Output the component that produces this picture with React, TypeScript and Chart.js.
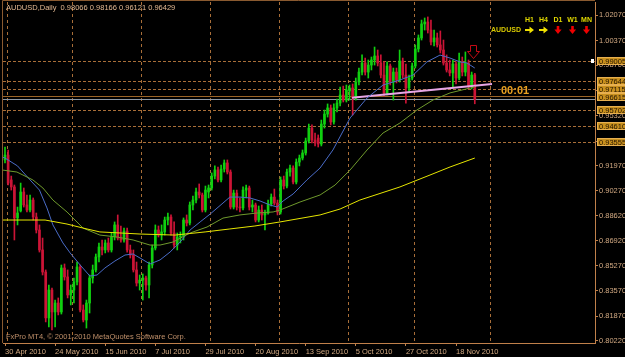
import React, { useEffect, useRef } from "react";
import { Chart, registerables } from "chart.js";

Chart.register(...registerables);

// ---------------- data ----------------
const symbolTitle = "AUDUSD,Daily";
const lastOHLC = [0.98066, 0.98166, 0.96121, 0.96429];

const dateLabels = ["30 Apr 2010", "24 May 2010", "15 Jun 2010", "7 Jul 2010", "29 Jul 2010", "20 Aug 2010", "13 Sep 2010", "5 Oct 2010", "27 Oct 2010", "18 Nov 2010"];
const dateBarIndex = [0, 16, 32, 48, 64, 80, 96, 112, 128, 144];
const monthSeparators = [0.5, 21.5, 43.5, 65.5, 87.5, 109.5, 130.5, 155];

const priceTicks = [1.0207, 1.0037, 0.987, 0.9701, 0.9532, 0.9362, 0.9197, 0.9027, 0.8862, 0.8692, 0.8527, 0.8357, 0.8187, 0.8022];
const dottedLevels = [0.99005, 0.97644, 0.97115, 0.95702, 0.9461, 0.93555];
const solidLevel = 0.96615;
const bidPrice = 0.96429;
const boxLabels = [0.99005, 0.97644, 0.97115, 0.96615, 0.95702, 0.9461, 0.93555];
const timerText = "00:01";
const mtfLabels = ["H1", "H4", "D1", "W1", "MN"];
const mtfDirection = ["up", "up", "down", "down", "down"];
const copyright = "FxPro MT4, \u00A9 2001-2010 MetaQuotes Software Corp.";

const opens = [0.9235,0.9268,0.9101,0.9054,0.8846,0.8893,0.9020,0.8933,0.8899,0.8966,0.8852,0.8765,0.8631,0.8483,0.8175,0.8362,0.8215,0.8275,0.8215,0.8510,0.8450,0.8329,0.8362,0.8416,0.8517,0.8228,0.8161,0.8275,0.8443,0.8497,0.8584,0.8651,0.8631,0.8678,0.8631,0.8718,0.8799,0.8711,0.8698,0.8758,0.8631,0.8597,0.8497,0.8409,0.8429,0.8443,0.8396,0.8530,0.8644,0.8765,0.8731,0.8752,0.8832,0.8852,0.8745,0.8664,0.8718,0.8725,0.8832,0.8812,0.8933,0.8966,0.9020,0.9000,0.8899,0.9020,0.9047,0.9127,0.9168,0.9101,0.9174,0.9215,0.9154,0.8919,0.9013,0.8919,0.8913,0.9033,0.9047,0.8919,0.8933,0.8832,0.8899,0.8866,0.8879,0.8940,0.8986,0.8946,0.8886,0.9101,0.9060,0.9154,0.9181,0.9087,0.9221,0.9248,0.9282,0.9362,0.9449,0.9369,0.9382,0.9342,0.9476,0.9543,0.9584,0.9490,0.9584,0.9617,0.9671,0.9637,0.9698,0.9718,0.9651,0.9758,0.9825,0.9886,0.9825,0.9872,0.9906,0.9933,0.9886,0.9805,0.9684,0.9866,0.9758,0.9825,0.9772,0.9899,0.9805,0.9718,0.9785,0.9866,0.9980,1.0054,1.0148,1.0161,1.0107,1.0027,1.0054,1.0007,0.9973,0.9886,0.9839,0.9819,0.9879,0.9785,0.9893,0.9825,0.9886,0.9731,0.98066];
const closes = [0.9268,0.9080,0.9054,0.8846,0.8879,0.9020,0.8933,0.8899,0.8966,0.8852,0.8765,0.8631,0.8483,0.8175,0.8362,0.8215,0.8275,0.8215,0.8510,0.8450,0.8329,0.8362,0.8416,0.8517,0.8228,0.8161,0.8275,0.8443,0.8497,0.8584,0.8651,0.8631,0.8678,0.8631,0.8718,0.8799,0.8711,0.8698,0.8758,0.8631,0.8597,0.8497,0.8409,0.8429,0.8443,0.8396,0.8530,0.8644,0.8765,0.8731,0.8752,0.8832,0.8852,0.8745,0.8664,0.8718,0.8725,0.8832,0.8812,0.8933,0.8966,0.9020,0.9000,0.8899,0.9033,0.9047,0.9127,0.9168,0.9101,0.9174,0.9215,0.9154,0.8919,0.9013,0.8919,0.8913,0.9033,0.9047,0.8919,0.8933,0.8832,0.8899,0.8866,0.8879,0.8940,0.8986,0.8946,0.8886,0.9101,0.9060,0.9154,0.9181,0.9087,0.9221,0.9248,0.9282,0.9362,0.9449,0.9369,0.9349,0.9342,0.9476,0.9543,0.9584,0.9490,0.9584,0.9617,0.9671,0.9637,0.9705,0.9718,0.9651,0.9758,0.9825,0.9886,0.9825,0.9872,0.9906,0.9933,0.9886,0.9805,0.9684,0.9866,0.9758,0.9825,0.9772,0.9899,0.9805,0.9718,0.9785,0.9866,0.9980,1.0054,1.0148,1.0161,1.0107,1.0027,1.0054,1.0007,0.9973,0.9886,0.9839,0.9819,0.9879,0.9785,0.9893,0.9825,0.9886,0.9731,0.9805,0.96429];
const highs = [0.9322,0.9302,0.9127,0.9067,0.8919,0.9080,0.9047,0.9000,0.9000,0.8980,0.8879,0.8799,0.8711,0.8497,0.8396,0.8376,0.8295,0.8309,0.8530,0.8537,0.8497,0.8396,0.8443,0.8550,0.8530,0.8262,0.8295,0.8463,0.8530,0.8604,0.8678,0.8698,0.8698,0.8711,0.8745,0.8819,0.8866,0.8792,0.8778,0.8778,0.8664,0.8631,0.8550,0.8463,0.8470,0.8456,0.8550,0.8664,0.8799,0.8792,0.8799,0.8852,0.8879,0.8866,0.8819,0.8745,0.8752,0.8846,0.8866,0.8953,0.8993,0.9047,0.9074,0.9013,0.9060,0.9067,0.9148,0.9195,0.9188,0.9201,0.9235,0.9235,0.9168,0.9033,0.9033,0.8980,0.9054,0.9067,0.9060,0.8966,0.8946,0.8926,0.8933,0.8899,0.8966,0.9007,0.9040,0.8966,0.9121,0.9127,0.9174,0.9201,0.9195,0.9242,0.9268,0.9302,0.9382,0.9476,0.9470,0.9416,0.9403,0.9503,0.9570,0.9611,0.9604,0.9611,0.9644,0.9725,0.9731,0.9738,0.9738,0.9745,0.9785,0.9852,0.9940,0.9919,0.9906,0.9926,0.9993,0.9973,0.9940,0.9893,0.9893,0.9879,0.9852,0.9852,0.9973,0.9919,0.9879,0.9805,0.9886,1.0007,1.0074,1.0174,1.0188,1.0195,1.0174,1.0107,1.0087,1.0101,1.0040,0.9940,0.9906,0.9906,0.9893,0.9953,0.9926,0.9960,0.9906,0.9825,0.98166];
const lows = [0.9215,0.9067,0.9033,0.8698,0.8799,0.8886,0.8919,0.8886,0.8886,0.8832,0.8745,0.8617,0.8463,0.8148,0.8114,0.8094,0.8114,0.8195,0.8201,0.8429,0.8309,0.8262,0.8275,0.8396,0.8215,0.8148,0.8107,0.8208,0.8409,0.8483,0.8550,0.8597,0.8611,0.8617,0.8617,0.8698,0.8698,0.8684,0.8684,0.8617,0.8577,0.8483,0.8389,0.8362,0.8295,0.8362,0.8309,0.8510,0.8631,0.8718,0.8698,0.8731,0.8799,0.8731,0.8644,0.8631,0.8678,0.8698,0.8792,0.8799,0.8899,0.8946,0.8980,0.8886,0.8886,0.8980,0.9033,0.9107,0.9087,0.9087,0.9154,0.9141,0.8906,0.8906,0.8899,0.8886,0.8899,0.8980,0.8899,0.8886,0.8819,0.8819,0.8832,0.8765,0.8872,0.8926,0.8933,0.8866,0.8872,0.9040,0.9047,0.9127,0.9074,0.9074,0.9195,0.9235,0.9268,0.9349,0.9349,0.9329,0.9322,0.9329,0.9449,0.9523,0.9470,0.9476,0.9557,0.9597,0.9624,0.9624,0.9637,0.9537,0.9637,0.9738,0.9805,0.9805,0.9785,0.9839,0.9872,0.9866,0.9785,0.9664,0.9671,0.9738,0.9637,0.9752,0.9758,0.9785,0.9617,0.9691,0.9772,0.9852,0.9960,1.0040,1.0107,1.0087,1.0007,1.0000,0.9993,0.9953,0.9872,0.9825,0.9799,0.9718,0.9745,0.9772,0.9799,0.9799,0.9711,0.9711,0.96121];

// moving averages: [bar index, price]
const maFast = [[-1,0.9255],[0,0.9248],[4,0.9195],[8,0.9101],[11,0.9033],[13.4,0.8913],[15.3,0.8799],[18.5,0.8678],[20.8,0.8611],[24,0.8530],[27.1,0.8456],[29.4,0.8463],[31.9,0.8510],[35.1,0.8557],[38.3,0.8597],[40.9,0.8604],[43.1,0.8577],[46.3,0.8537],[49.5,0.8564],[52.7,0.8617],[55.9,0.8684],[59.1,0.8765],[62.3,0.8819],[65.5,0.8872],[69.6,0.8946],[71.8,0.8986],[75,0.8986],[78.2,0.8980],[81.4,0.8960],[84.6,0.8933],[86.9,0.8919],[88.8,0.8960],[92,0.9007],[96.4,0.9101],[100.6,0.9181],[104.7,0.9302],[110.2,0.9517],[115.6,0.9651],[120.7,0.9738],[126.1,0.9772],[130.3,0.9805],[134.7,0.9893],[138.9,0.9939],[142.1,0.9919],[145.3,0.9893],[147.5,0.9886],[150,0.9852]];
const maMid = [[-1,0.9168],[3.8,0.9154],[8.9,0.9101],[12.1,0.9047],[15.3,0.8966],[19.8,0.8886],[24.9,0.8778],[30.3,0.8731],[35.8,0.8718],[40.9,0.8698],[46.3,0.8664],[49.5,0.8664],[53.6,0.8684],[59.1,0.8745],[64.5,0.8785],[69.6,0.8845],[75,0.8866],[80.5,0.8879],[85.6,0.8886],[87.8,0.8899],[94.2,0.8953],[100.6,0.9000],[105.4,0.9067],[110.2,0.9168],[115.6,0.9302],[120.7,0.9416],[126.1,0.9483],[131.5,0.9570],[136.7,0.9638],[142.1,0.9685],[148.5,0.9718],[150,0.9725]];
const maSlow = [[-1,0.8832],[12.8,0.8832],[19.8,0.8805],[24.9,0.8778],[30.3,0.8752],[43.1,0.8738],[54.3,0.8731],[63.9,0.8752],[71.8,0.8772],[79.8,0.8792],[87.8,0.8819],[100.6,0.8866],[107,0.8906],[113.3,0.8966],[126.1,0.9054],[135.7,0.9134],[142.1,0.9188],[150,0.9248]];
const trendLine = [[110.8, 0.9652], [155.5, 0.9745]];
const signalArrow = { bar: 149.3, price: 1.0005 };

// ---------------- styles ----------------
const FONT = "'Liberation Sans', Arial, sans-serif";
const AXIS = "#c0804a";
const FRAME = "#8a5a30";
const TEXT = "#d2a982";
const DOT = "#a86e38";
const BULL = "#10d010";
const BEAR = "#cc1436";

const bars = opens.map((_, i) => i);
const candleColor = bars.map((i) => (closes[i] >= opens[i] ? BULL : BEAR));

const overlay = {
  id: "mt4overlay",
  beforeDraw(chart: any) {
    const { ctx } = chart;
    ctx.save();
    ctx.fillStyle = "#000000";
    ctx.fillRect(0, 0, chart.width, chart.height);
    ctx.restore();
  },
  beforeDatasetsDraw(chart: any) {
    const { ctx, chartArea: a, scales } = chart;
    const x = scales.x, y = scales.y;
    ctx.save();
    ctx.lineWidth = 1;
    ctx.strokeStyle = DOT;
    ctx.setLineDash([3, 3]);
    monthSeparators.forEach((v) => {
      const px = Math.round(x.getPixelForValue(v)) + 0.5;
      ctx.beginPath(); ctx.moveTo(px, a.top); ctx.lineTo(px, a.bottom); ctx.stroke();
    });
    ctx.setLineDash([3, 2]);
    dottedLevels.forEach((v) => {
      const py = Math.round(y.getPixelForValue(v)) + 0.5;
      ctx.beginPath(); ctx.moveTo(a.left, py); ctx.lineTo(a.right, py); ctx.stroke();
    });
    ctx.setLineDash([]);
    let py = Math.round(y.getPixelForValue(solidLevel)) + 0.5;
    ctx.strokeStyle = "#9a6428";
    ctx.beginPath(); ctx.moveTo(a.left, py); ctx.lineTo(a.right, py); ctx.stroke();
    py = Math.round(y.getPixelForValue(bidPrice)) + 0.5;
    ctx.strokeStyle = "#8c98a6";
    ctx.beginPath(); ctx.moveTo(a.left, py); ctx.lineTo(a.right, py); ctx.stroke();
    ctx.restore();
  },
  afterDraw(chart: any) {
    const { ctx, chartArea: a, scales } = chart;
    const x = scales.x, y = scales.y;
    ctx.save();
    // frame
    ctx.strokeStyle = FRAME;
    ctx.lineWidth = 1;
    ctx.beginPath(); ctx.moveTo(2.5, a.bottom); ctx.lineTo(2.5, 0.5); ctx.lineTo(a.right, 0.5); ctx.stroke();

    // header
    ctx.textAlign = "left";
    ctx.textBaseline = "middle";
    ctx.fillStyle = "#e2b892";
    ctx.font = `7.5px ${FONT}`;
    ctx.fillText(`${symbolTitle}  ${lastOHLC.map((v) => v.toFixed(5)).join(" ")}`, 6, 7.5);
    // copyright
    ctx.fillStyle = "#c0906a";
    ctx.fillText(copyright, 6, 337);

    // timer
    ctx.fillStyle = "#e8a020";
    ctx.font = `bold 11px ${FONT}`;
    ctx.fillText(timerText, 501, 91);

    // multi timeframe panel
    ctx.font = `bold 7px ${FONT}`;
    ctx.fillStyle = "#d8c800";
    ctx.fillText("AUDUSD", 491, 30.5);
    const centers = [529.5, 543.5, 558, 572.5, 586.5];
    ctx.textAlign = "center";
    mtfLabels.forEach((lab, k) => {
      ctx.fillStyle = "#e0d800";
      ctx.fillText(lab, centers[k], 20);
      const cx = centers[k];
      if (mtfDirection[k] === "up") {
        ctx.fillStyle = "#f0e000";
        ctx.beginPath();
        ctx.moveTo(cx - 4.5, 29); ctx.lineTo(cx, 29); ctx.lineTo(cx, 26.5); ctx.lineTo(cx + 4.5, 30);
        ctx.lineTo(cx, 33.5); ctx.lineTo(cx, 31); ctx.lineTo(cx - 4.5, 31); ctx.closePath(); ctx.fill();
      } else {
        ctx.fillStyle = "#ee0000";
        ctx.beginPath();
        ctx.moveTo(cx - 1.3, 26); ctx.lineTo(cx + 1.3, 26); ctx.lineTo(cx + 1.3, 29.5); ctx.lineTo(cx + 3.6, 29.5);
        ctx.lineTo(cx, 34); ctx.lineTo(cx - 3.6, 29.5); ctx.lineTo(cx - 1.3, 29.5); ctx.closePath(); ctx.fill();
      }
    });

    // hollow signal arrow
    const ax = Math.round(x.getPixelForValue(signalArrow.bar)) + 0.5;
    const ay = Math.round(y.getPixelForValue(signalArrow.price)) + 0.5;
    ctx.strokeStyle = "#c40a14";
    ctx.lineWidth = 1;
    ctx.beginPath();
    ctx.moveTo(ax - 3, ay); ctx.lineTo(ax + 3, ay); ctx.lineTo(ax + 3, ay + 6); ctx.lineTo(ax + 6, ay + 6);
    ctx.lineTo(ax, ay + 13); ctx.lineTo(ax - 6, ay + 6); ctx.lineTo(ax - 3, ay + 6); ctx.closePath(); ctx.stroke();

    // price boxes on the axis
    const items = boxLabels.map((v) => ({ v, py: y.getPixelForValue(v) })).sort((p, q) => p.py - q.py);
    let prev = -1e9;
    items.forEach((it) => { if (it.py < prev + 8) it.py = prev + 8; prev = it.py; });
    ctx.textAlign = "left";
    ctx.font = `7.5px ${FONT}`;
    items.forEach((it) => {
      const cy = Math.round(it.py);
      ctx.fillStyle = "#c8901e";
      ctx.fillRect(a.right + 2, cy - 4, 32, 8);
      ctx.strokeStyle = "#e8b050";
      ctx.strokeRect(a.right + 2.5, cy - 3.5, 32, 7);
      ctx.fillStyle = "#241400";
      ctx.fillText(it.v.toFixed(5), a.right + 4, cy + 0.5);
    });
    const wy = Math.round(y.getPixelForValue(boxLabels[0]));
    ctx.fillStyle = "#ffffff";
    ctx.fillRect(a.right - 4, wy - 2, 3, 4);
    ctx.restore();
  },
};

export default function App() {
  const ref = useRef<HTMLCanvasElement>(null);
  useEffect(() => {
    document.body.style.margin = "0";
    document.body.style.background = "#000";
    document.body.style.overflow = "hidden";
    const canvas = ref.current as HTMLCanvasElement;
    const line = (data: number[][], color: string, width = 1) => ({
      type: "line",
      data: data.map(([a, b]) => ({ x: a, y: b })),
      borderColor: color,
      borderWidth: width,
      pointRadius: 0,
      tension: 0,
      fill: false,
      order: 1,
    });
    const chart = new Chart(canvas, {
      type: "bar",
      data: {
        datasets: [
          {
            type: "bar",
            data: bars.map((i) => ({ x: i, y: [lows[i], highs[i]] })),
            backgroundColor: candleColor,
            barThickness: 1,
            grouped: false,
            order: 11,
          },
          {
            type: "bar",
            data: bars.map((i) => ({ x: i, y: [opens[i], closes[i]] })),
            backgroundColor: candleColor,
            barThickness: 2,
            minBarLength: 1,
            grouped: false,
            order: 10,
          },
          line(maSlow, "#e6e600"),
          line(maMid, "#6f9a2c"),
          line(maFast, "#4a6cc8"),
          line(trendLine, "#e6a6e6", 2),
        ] as any,
      },
      options: {
        responsive: false,
        animation: false,
        devicePixelRatio: 1,
        events: [],
        layout: { padding: { left: 3, top: 2, right: 0, bottom: 0 } },
        plugins: { legend: { display: false }, tooltip: { enabled: false }, title: { display: false } },
        scales: {
          x: {
            type: "linear",
            position: "bottom",
            min: -0.6386,
            max: 188.38,
            offset: false,
            afterBuildTicks: (s: any) => { s.ticks = dateBarIndex.map((v) => ({ value: v })); },
            afterFit: (s: any) => { s.height = 14; s.paddingLeft = 0; s.paddingRight = 0; },
            ticks: {
              autoSkip: false, maxRotation: 0, minRotation: 0, align: "start", padding: 1,
              color: TEXT, font: { family: FONT, size: 7.5 },
              callback: (_v: any, idx: number) => dateLabels[idx],
            },
            grid: { drawOnChartArea: false, tickLength: 3, color: AXIS, offset: false },
            border: { color: AXIS, width: 1 },
          },
          y: {
            type: "linear",
            position: "right",
            min: 0.80066,
            max: 1.02952,
            afterBuildTicks: (s: any) => { s.ticks = priceTicks.map((v) => ({ value: v })); },
            afterFit: (s: any) => { s.width = 30; s.paddingTop = 0; s.paddingBottom = 0; },
            ticks: {
              padding: 1, color: TEXT, font: { family: FONT, size: 7.5 },
              callback: (v: any) => Number(v).toFixed(5),
            },
            grid: { drawOnChartArea: false, tickLength: 3, color: AXIS },
            border: { color: AXIS, width: 1 },
          },
        },
      } as any,
      plugins: [overlay],
    });
    return () => chart.destroy();
  }, []);
  return (
    <div style={{ width: 625, height: 357, background: "#000" }}>
      <canvas ref={ref} width={625} height={357} style={{ display: "block", width: 625, height: 357 }} />
    </div>
  );
}
